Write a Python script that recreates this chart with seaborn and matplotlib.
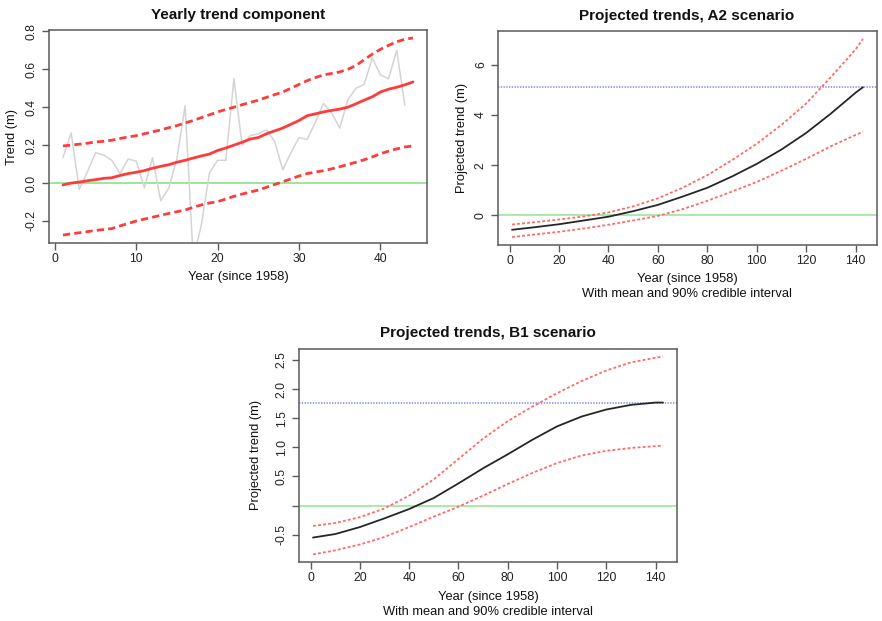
import numpy as np
import matplotlib
matplotlib.use("Agg")
import matplotlib.pyplot as plt
import seaborn as sns

# Observed yearly trend component (m), years since 1958
obs_years = np.arange(1, 44)
obs_trend = [0.135, 0.265, -0.033, 0.06, 0.16, 0.147, 0.12, 0.05, 0.126, 0.116,
             -0.025, 0.133, -0.093, -0.027, 0.13, 0.407, -0.40, -0.22, 0.055, 0.12,
             0.12, 0.55, 0.2, 0.25, 0.26, 0.28, 0.22, 0.07, 0.16, 0.24,
             0.23, 0.32, 0.42, 0.37, 0.29, 0.44, 0.50, 0.52, 0.66, 0.57,
             0.55, 0.70, 0.41]

# Fitted trend with credible band
fit_years = np.arange(1, 45)
fit_mean = [-0.01, 0.0, 0.005, 0.012, 0.018, 0.025, 0.028, 0.04, 0.05, 0.057,
            0.066, 0.078, 0.088, 0.097, 0.11, 0.12, 0.132, 0.143, 0.153, 0.172,
            0.185, 0.2, 0.215, 0.232, 0.24, 0.26, 0.275, 0.29, 0.31, 0.33,
            0.355, 0.365, 0.375, 0.383, 0.39, 0.40, 0.418, 0.437, 0.455, 0.48,
            0.495, 0.505, 0.518, 0.533]
fit_upper = [0.196, 0.2, 0.205, 0.21, 0.217, 0.22, 0.226, 0.235, 0.243, 0.25,
             0.26, 0.27, 0.28, 0.292, 0.303, 0.317, 0.33, 0.345, 0.36, 0.375,
             0.388, 0.40, 0.413, 0.425, 0.437, 0.452, 0.466, 0.48, 0.50, 0.52,
             0.54, 0.556, 0.57, 0.578, 0.586, 0.60, 0.62, 0.65, 0.68, 0.705,
             0.726, 0.745, 0.758, 0.765]
fit_lower = [-0.274, -0.268, -0.262, -0.256, -0.25, -0.245, -0.24, -0.226, -0.213, -0.20,
             -0.19, -0.18, -0.17, -0.16, -0.151, -0.142, -0.128, -0.115, -0.105, -0.098,
             -0.084, -0.07, -0.058, -0.047, -0.037, -0.022, -0.008, 0.007, 0.022, 0.037,
             0.05, 0.058, 0.065, 0.075, 0.086, 0.098, 0.11, 0.123, 0.138, 0.155,
             0.168, 0.18, 0.19, 0.196]

# Projections (years since 1958)
proj_years = [1, 10, 20, 30, 40, 50, 60, 70, 80, 90, 100, 110, 120, 130, 140, 143]
a2_mean = [-0.57, -0.47, -0.35, -0.2, -0.05, 0.17, 0.42, 0.75, 1.1, 1.55,
           2.05, 2.62, 3.28, 4.05, 4.88, 5.1]
a2_upper = [-0.36, -0.27, -0.16, -0.04, 0.12, 0.36, 0.68, 1.1, 1.6, 2.2,
            2.85, 3.6, 4.45, 5.5, 6.6, 7.02]
a2_lower = [-0.86, -0.76, -0.65, -0.52, -0.37, -0.2, -0.02, 0.25, 0.58, 0.95,
            1.33, 1.78, 2.25, 2.75, 3.2, 3.32]

b1_mean = [-0.55, -0.49, -0.37, -0.22, -0.06, 0.13, 0.38, 0.64, 0.88, 1.13,
           1.36, 1.53, 1.65, 1.73, 1.77, 1.77]
b1_upper = [-0.35, -0.3, -0.2, -0.05, 0.17, 0.45, 0.8, 1.15, 1.45, 1.70,
            1.93, 2.14, 2.32, 2.46, 2.54, 2.56]
b1_lower = [-0.84, -0.77, -0.67, -0.54, -0.37, -0.19, -0.02, 0.17, 0.37, 0.56,
            0.73, 0.86, 0.94, 0.99, 1.02, 1.03]

sns.set_style("white")
plt.rcParams["font.family"] = ["Liberation Sans", "DejaVu Sans"]

W, H = 882, 621
fig = plt.figure(figsize=(W / 100, H / 100), dpi=100)


def panel(x0, y0, x1, y1):
    return fig.add_axes([x0 / W, 1 - y1 / H, (x1 - x0) / W, (y1 - y0) / H])


def style(ax):
    for s in ax.spines.values():
        s.set_visible(True)
        s.set_color("#5a5a5a")
        s.set_linewidth(1.1)
    ax.grid(False)
    ax.tick_params(bottom=True, left=True, direction="out", length=5, width=1.0,
                   color="#5a5a5a", labelsize=8.7, labelcolor="#222222")
    ax.tick_params(axis="x", pad=2)
    ax.tick_params(axis="y", pad=3, labelrotation=90)
    for lab in ax.get_yticklabels():
        lab.set_va("center")
    ax.set_xlabel("")
    ax.set_ylabel("")


def ftext(x, y, s, **kw):
    fig.text(x / W, 1 - y / H, s, ha="center", va="center", color="#111111", **kw)


RED = "#ff3c3c"
RED_DOT = "#ff6b6b"
GREEN = "#94e394"
BLUE = "#8585f0"
BLACK = "#262626"

# --- Yearly trend component ---
ax1 = panel(49, 30, 427, 243)
ax1.axhline(0, color=GREEN, lw=1.3, zorder=1)
sns.lineplot(x=obs_years, y=obs_trend, ax=ax1, color="#d4d4d4", lw=1.1)
sns.lineplot(x=fit_years, y=fit_mean, ax=ax1, color=RED, lw=2.0)
for band in (fit_upper, fit_lower):
    sns.lineplot(x=fit_years, y=band, ax=ax1, color=RED, lw=2.0)
    ax1.lines[-1].set_dashes([2.6, 1.5])
ax1.set_xlim(-0.72, 45.72)
ax1.set_ylim(-0.316, 0.807)
ax1.set_xticks([0, 10, 20, 30, 40])
ax1.set_yticks([-0.2, 0.0, 0.2, 0.4, 0.6, 0.8])
ax1.set_yticklabels(["-0.2", "0.0", "0.2", "0.4", "0.6", "0.8"])
style(ax1)
ftext(238, 15, "Yearly trend component", fontsize=11, fontweight="bold")
ftext(238, 277, "Year (since 1958)", fontsize=9.3)
ftext(12, 137, "Trend (m)", fontsize=9.3, rotation=90)


def projection(ax, mean, upper, lower, yticks, ylabels, ylim):
    ax.axhline(0, color=GREEN, lw=1.1, zorder=1)
    ax.axhline(mean[-1], color=BLUE, lw=1.1, dashes=[0.9, 0.9], zorder=1)
    sns.lineplot(x=proj_years, y=mean, ax=ax, color=BLACK, lw=1.3)
    for band in (upper, lower):
        sns.lineplot(x=proj_years, y=band, ax=ax, color=RED_DOT, lw=1.3)
        ax.lines[-1].set_dashes([1.6, 1.2])
    ax.set_xlim(-4.68, 148.68)
    ax.set_ylim(*ylim)
    ax.set_xticks(range(0, 141, 20))
    ax.set_yticks(yticks)
    ax.set_yticklabels(ylabels)
    style(ax)


# --- A2 scenario ---
ax2 = panel(498, 31, 877, 245)
projection(ax2, a2_mean, a2_upper, a2_lower, [0, 2, 4, 6], ["0", "2", "4", "6"],
           (-1.175, 7.335))
ftext(687, 16, "Projected trends, A2 scenario", fontsize=11, fontweight="bold")
ftext(687, 279, "Year (since 1958)", fontsize=9.3)
ftext(687, 294, "With mean and 90% credible interval", fontsize=9.3)
ftext(462, 138, "Projected trend (m)", fontsize=9.3, rotation=90)

# --- B1 scenario ---
ax3 = panel(299, 349, 677, 562)
projection(ax3, b1_mean, b1_upper, b1_lower,
           [-0.5, 0, 0.5, 1.0, 1.5, 2.0, 2.5],
           ["-0.5", "", "0.5", "1.0", "1.5", "2.0", "2.5"],
           (-0.97, 2.69))
ftext(488, 333, "Projected trends, B1 scenario", fontsize=11, fontweight="bold")
ftext(488, 597, "Year (since 1958)", fontsize=9.3)
ftext(488, 612, "With mean and 90% credible interval", fontsize=9.3)
ftext(256, 455, "Projected trend (m)", fontsize=9.3, rotation=90)

fig.savefig("out.png", dpi=100)
